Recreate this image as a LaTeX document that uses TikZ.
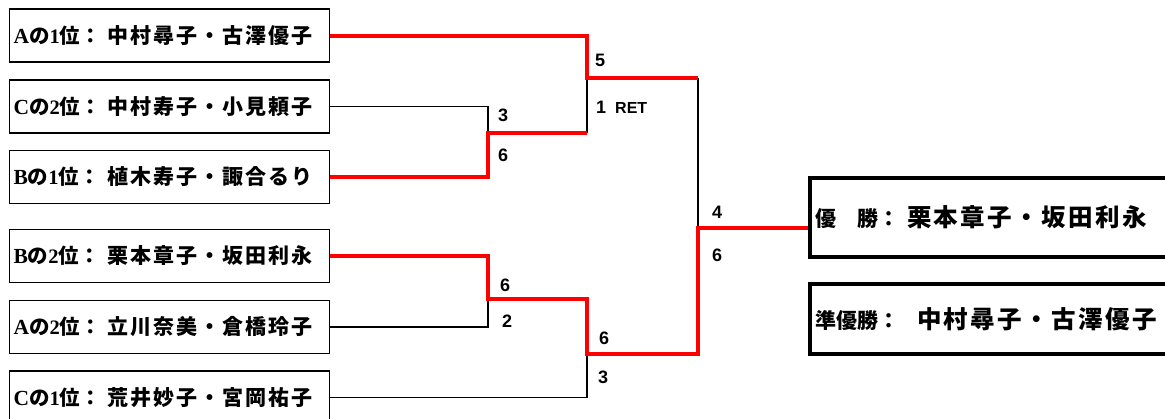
\documentclass[tikz,border=0pt]{standalone}
\usepackage{fontspec}
\setmainfont{Liberation Serif}
\newfontfamily\jpfont{Noto Sans CJK JP Black}
\newfontfamily\jpname{Noto Sans CJK JP Black}[LetterSpace=10]
\newfontfamily\scorefont{Liberation Sans Bold}

% seed entry: group letter, rank, pair
\newcommand{\seed}[3]{%
  \makebox[93.5pt][l]{\fontsize{20.5}{20.5}\selectfont{\bfseries\fontsize{21.5}{21.5}\selectfont #1}{\jpfont の}{\bfseries #2}{\jpfont 位：}}%
  {\jpname\fontsize{21}{21}\selectfont #3}}
% result entry: prefix width, title, pair
\newcommand{\result}[3]{%
  \makebox[#1][l]{\jpfont\fontsize{21}{21}\selectfont #2}%
  {\jpname\fontsize{24.5}{24.5}\selectfont #3}}

\begin{document}
\begin{tikzpicture}[x=1pt,y=-1pt]

    % Define some common styles
    \tikzset{
        seedbox/.style={draw, line width=1.5pt, minimum width=320pt, minimum height=53pt,
            inner xsep=4pt, text width=312pt, align=left},
        resultbox/.style={draw, line width=4pt, minimum width=360pt,
            inner xsep=5pt, text width=350pt, align=left},
        win/.style={red, line width=4pt},
        lose/.style={black, line width=1.3pt},
        score/.style={font=\scorefont\fontsize{18}{18}\selectfont, inner sep=0pt, anchor=west}
    }

    \useasboundingbox (0,0) rectangle (1165,418);

    % Seeded pairs
    \node[seedbox] (a1) at (169.5,35.5) {\seed{A}{1}{中村尋子・古澤優子}};
    \node[seedbox] (c2) at (169.5,106.5) {\seed{C}{2}{中村寿子・小見頼子}};
    \node[seedbox] (b1) at (169.5,177) {\seed{B}{1}{植木寿子・諏合るり}};
    \node[seedbox] (b2) at (169.5,256) {\seed{B}{2}{栗本章子・坂田利永}};
    \node[seedbox] (a2) at (169.5,327) {\seed{A}{2}{立川奈美・倉橋玲子}};
    \node[seedbox] (c1) at (169.5,397.5) {\seed{C}{1}{荒井妙子・宮岡祐子}};

    % Results
    \node[resultbox, minimum height=79pt] (champ) at (990,217) {\result{92pt}{優　勝：}{栗本章子・坂田利永}};
    \node[resultbox, minimum height=70pt] (runner) at (990,319) {\result{102pt}{準優勝：}{中村尋子・古澤優子}};

    % Bracket joints
    \coordinate (s1) at (488,133);
    \coordinate (s2) at (488,299);
    \coordinate (q1) at (587,78);
    \coordinate (q2) at (587,354);
    \coordinate (f) at (698,228);

    % Losing lines
    \draw[lose] (c2.east) -| (s1);
    \draw[lose] (a2.east) -| (s2);
    \draw[lose] (s1 -| q1) -- (q1);
    \draw[lose] (c1.east) -| (q2);
    \draw[lose] (q1 -| f) -- (f);

    % Winning lines
    \draw[win] (a1.east) -| (q1) -- (q1 -| f);
    \draw[win] (b1.east) -| (s1) -- (s1 -| q1);
    \draw[win] (b2.east) -| (s2) -- (s2 -| q1) -- (q2) -- (q2 -| f) -- (f) -- (f -| champ.west);

    % Scores
    \node[score] (r5) at (595,60) {5};
    \node[score] (r1) at (596,107) {1\hspace{9pt}{\fontsize{16}{16}\selectfont RET}};
    \node[score] (s3) at (498,115) {3};
    \node[score] (s6) at (498,155) {6};
    \node[score] (t6) at (500,285) {6};
    \node[score] (t2) at (502,321) {2};
    \node[score] (u6) at (599,338) {6};
    \node[score] (u3) at (598,377) {3};
    \node[score] (f4) at (712,212) {4};
    \node[score] (f6) at (712,255) {6};

\end{tikzpicture}
\end{document}
